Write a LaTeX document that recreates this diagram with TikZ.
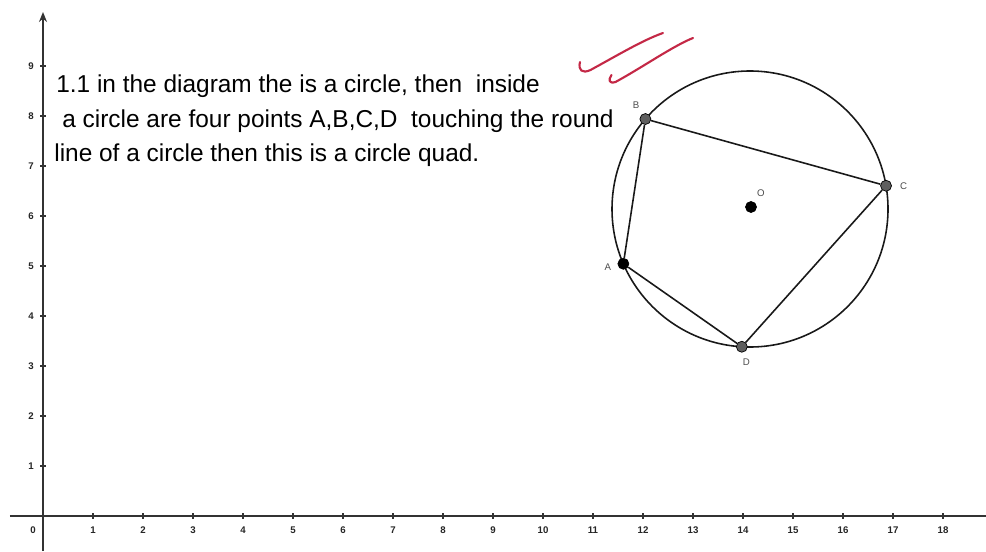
\documentclass[tikz,border=0pt]{standalone}
\usepackage{fontspec}
\setmainfont{Liberation Sans}
\usetikzlibrary{positioning, arrows.meta, calc}
\definecolor{checkred}{RGB}{196,40,70}
\definecolor{ptgray}{RGB}{95,95,95}

\begin{document}
\begin{tikzpicture}[x=1cm,y=1cm,
        axis/.style={draw=black!80,line width=1pt},
        tickmark/.style={draw=black!80,line width=0.6pt},
        ticklabel/.style={font=\fontsize{5.5}{6}\selectfont\bfseries,text=black!85,inner sep=0pt},
        curve/.style={draw=black!90,line width=0.9pt},
        pt/.style={circle,draw=black,line width=0.4pt,inner sep=0pt,minimum size=2.2mm},
        ptlabel/.style={font=\fontsize{5.5}{6}\selectfont,text=black!70,inner sep=0pt},
        note/.style={font=\fontsize{13.9}{19.9}\selectfont,align=left,inner sep=0pt},
        check/.style={draw=checkred,line width=1.2pt,line cap=round,line join=round}]
    \useasboundingbox[fill=white] (-0.86,-0.7) rectangle (18.86,10.32);
    % axes
    \coordinate (xstart) at (-0.66,0);
    \coordinate (xend) at (18.86,0);
    \coordinate (ystart) at (0,-0.7);
    \coordinate (yend) at (0,10.08);
    \draw[axis] (xstart) -- (xend);
    \draw[axis,-{Stealth[length=2mm,width=1.6mm]}] (ystart) -- (yend);
    \node[ticklabel] (x0) at (-0.2,-0.28) {0};
    \foreach \i in {1,...,18} {
        \draw[tickmark] (\i,-0.05) -- (\i,0.06);
        \node[ticklabel] (x\i) at (\i,-0.28) {\i};
    }
    \foreach \j in {1,...,9} {
        \draw[tickmark] (-0.06,\j) -- (0.06,\j);
        \node[ticklabel] (y\j) at (-0.24,\j) {\j};
    }
    % text
    \node[note,anchor=north west] (txt) at (0.26,8.84)
        {1.1 in the diagram the is a circle, then\ \ inside\\
         \hspace{0.12cm}a circle are four points A,B,C,D\ \ touching the round\\
         \hspace{-0.04cm}line of a circle then this is a circle quad.};
    % circle quad
    \coordinate (ctr) at (14.14,6.14);
    \draw[curve] (ctr) circle (2.76);
    \node[pt,fill=ptgray] (B) at ($(ctr)+(139.3:2.76)$) {};
    \node[pt,fill=ptgray] (C) at ($(ctr)+(9.7:2.76)$) {};
    \node[pt,fill=black] (A) at ($(ctr)+(203.4:2.76)$) {};
    \node[pt,fill=ptgray] (D) at ($(ctr)+(266.6:2.76)$) {};
    \node[pt,fill=black] (O) at (14.16,6.18) {};
    \draw[curve] (A) -- (B) -- (C) -- (D) -- (A);
    \node[ptlabel,above left=1.2mm and 0.3mm of B] (Blab) {B};
    \node[ptlabel,right=1.6mm of C] (Clab) {C};
    \node[ptlabel,left=1.2mm of A,yshift=-0.6mm] (Alab) {A};
    \node[ptlabel,below=1.2mm of D,xshift=0.9mm] (Dlab) {D};
    \node[ptlabel,above right=1.2mm and 0.3mm of O] (Olab) {O};
    % red check marks
    \draw[check] (10.74,9.08) .. controls (10.70,8.92) and (10.78,8.84) .. (10.95,8.92)
        .. controls (11.5,9.22) and (12.0,9.52) .. (12.4,9.66);
    \draw[check] (11.37,8.82) .. controls (11.30,8.72) and (11.32,8.64) .. (11.45,8.68)
        .. controls (12.0,8.98) and (12.6,9.4) .. (13.0,9.56);
\end{tikzpicture}
\end{document}
